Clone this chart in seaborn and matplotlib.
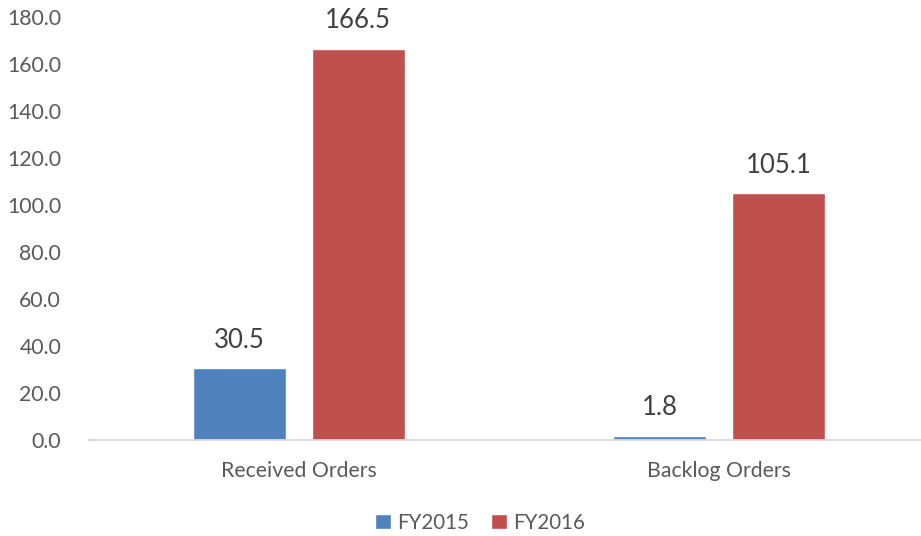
import matplotlib
matplotlib.use("Agg")
import matplotlib.pyplot as plt
import seaborn as sns
import pandas as pd
from matplotlib.patches import Patch

categories = ["Received Orders", "Backlog Orders"]
series = ["FY2015", "FY2016"]
fy2015 = [30.5, 1.8]
fy2016 = [166.5, 105.1]
yticks = [0, 20, 40, 60, 80, 100, 120, 140, 160, 180]
colors = ["#4F81BD", "#C0504D"]

df = pd.DataFrame({
    "category": categories * 2,
    "series": [series[0]] * 2 + [series[1]] * 2,
    "value": fy2015 + fy2016,
})

sns.set_theme(style="white")
plt.rcParams['font.family'] = ['Lato', 'DejaVu Sans']

fig = plt.figure(figsize=(9.21, 5.36), dpi=100)
ax = fig.add_axes([89 / 921, (536 - 440) / 536, 840 / 921, (440 - 17) / 536])

sns.barplot(data=df, x="category", y="value", hue="series", order=categories,
            hue_order=series, palette=colors, width=0.565, gap=0.217,
            saturation=1, ax=ax, legend=False)

for cont in ax.containers:
    ax.bar_label(cont, fmt="%.1f", padding=11, fontsize=18.5, color="#404040")

ax.set_ylim(0, 180)
ax.set_yticks(yticks)
ax.set_yticklabels([f"{v:.1f}" for v in yticks])
ax.set_xlim(-0.5, 1.5)
ax.set_xlabel("")
ax.set_ylabel("")
for s in ["top", "right", "left"]:
    ax.spines[s].set_visible(False)
ax.spines["bottom"].set_color("#D9D9D9")
ax.spines["bottom"].set_linewidth(1.3)
ax.tick_params(axis="y", labelsize=15.3, labelcolor="#595959", length=0, pad=20)
ax.tick_params(axis="x", labelsize=15.3, labelcolor="#595959", length=0, pad=15)
ax.grid(False)

handles = [Patch(facecolor=c, label=s) for c, s in zip(colors, series)]
fig.legend(handles=handles, loc="center", bbox_to_anchor=(480 / 921, 1 - 523 / 536),
           ncol=2, frameon=False, fontsize=14.8, labelcolor="#595959",
           handlelength=0.75, handleheight=0.75, handletextpad=0.3, columnspacing=1.1)

fig.savefig("out.png", dpi=100)
